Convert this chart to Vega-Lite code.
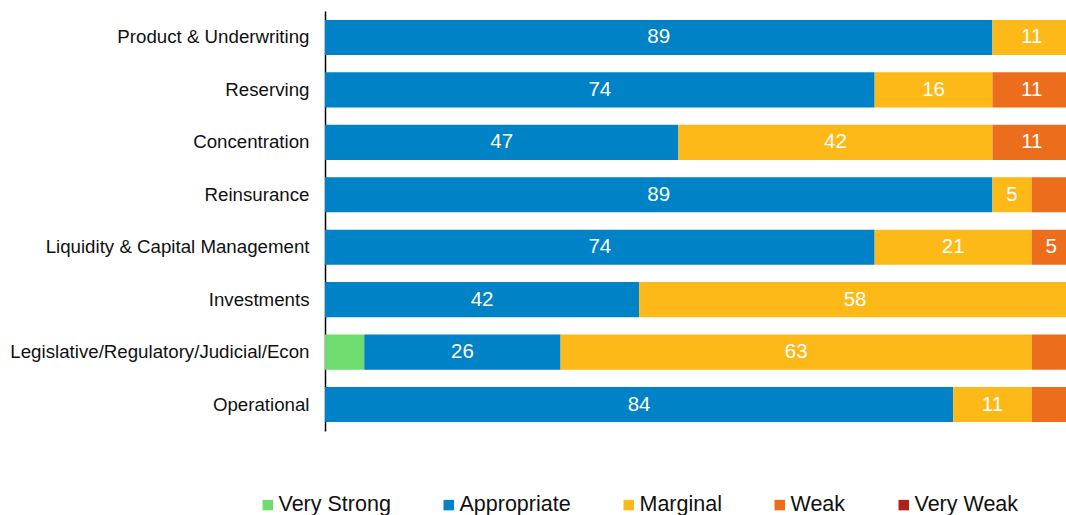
{
  "$schema": "https://vega.github.io/schema/vega-lite/v6.json",
  "width": 741,
  "height": 420,
  "autosize": "none",
  "padding": {"left": 325, "top": 11, "right": 0, "bottom": 84},
  "background": "white",
  "config": {"font": "Liberation Sans", "view": {"stroke": null}},
  "data": {"values": [
    {"cat": "Product & Underwriting", "rating": "Appropriate", "rank": 2, "pct": 89.47, "label": "89"},
    {"cat": "Product & Underwriting", "rating": "Marginal", "rank": 3, "pct": 10.53, "label": "11"},
    {"cat": "Reserving", "rating": "Appropriate", "rank": 2, "pct": 73.68, "label": "74"},
    {"cat": "Reserving", "rating": "Marginal", "rank": 3, "pct": 15.79, "label": "16"},
    {"cat": "Reserving", "rating": "Weak", "rank": 4, "pct": 10.53, "label": "11"},
    {"cat": "Concentration", "rating": "Appropriate", "rank": 2, "pct": 47.37, "label": "47"},
    {"cat": "Concentration", "rating": "Marginal", "rank": 3, "pct": 42.11, "label": "42"},
    {"cat": "Concentration", "rating": "Weak", "rank": 4, "pct": 10.53, "label": "11"},
    {"cat": "Reinsurance", "rating": "Appropriate", "rank": 2, "pct": 89.47, "label": "89"},
    {"cat": "Reinsurance", "rating": "Marginal", "rank": 3, "pct": 5.26, "label": "5"},
    {"cat": "Reinsurance", "rating": "Weak", "rank": 4, "pct": 5.26, "label": ""},
    {"cat": "Liquidity & Capital Management", "rating": "Appropriate", "rank": 2, "pct": 73.68, "label": "74"},
    {"cat": "Liquidity & Capital Management", "rating": "Marginal", "rank": 3, "pct": 21.05, "label": "21"},
    {"cat": "Liquidity & Capital Management", "rating": "Weak", "rank": 4, "pct": 5.26, "label": "5"},
    {"cat": "Investments", "rating": "Appropriate", "rank": 2, "pct": 42.11, "label": "42"},
    {"cat": "Investments", "rating": "Marginal", "rank": 3, "pct": 57.89, "label": "58"},
    {"cat": "Legislative/Regulatory/Judicial/Econ", "rating": "Very Strong", "rank": 1, "pct": 5.26, "label": ""},
    {"cat": "Legislative/Regulatory/Judicial/Econ", "rating": "Appropriate", "rank": 2, "pct": 26.32, "label": "26"},
    {"cat": "Legislative/Regulatory/Judicial/Econ", "rating": "Marginal", "rank": 3, "pct": 63.16, "label": "63"},
    {"cat": "Legislative/Regulatory/Judicial/Econ", "rating": "Weak", "rank": 4, "pct": 5.26, "label": ""},
    {"cat": "Operational", "rating": "Appropriate", "rank": 2, "pct": 84.21, "label": "84"},
    {"cat": "Operational", "rating": "Marginal", "rank": 3, "pct": 10.53, "label": "11"},
    {"cat": "Operational", "rating": "Weak", "rank": 4, "pct": 5.26, "label": ""}
  ]},
  "transform": [
    {"stack": "pct", "groupby": ["cat"], "sort": [{"field": "rank", "order": "ascending"}], "as": ["x0", "x1"]},
    {"calculate": "(datum.x0 + datum.x1) / 2", "as": "mid"}
  ],
  "encoding": {
    "y": {
      "field": "cat", "type": "nominal",
      "sort": ["Product & Underwriting", "Reserving", "Concentration", "Reinsurance", "Liquidity & Capital Management", "Investments", "Legislative/Regulatory/Judicial/Econ", "Operational"],
      "scale": {"paddingInner": 0.33, "paddingOuter": 0.17},
      "axis": {"title": null, "ticks": false, "labelFontSize": 18.7, "labelColor": "#111111", "labelPadding": 16, "domainColor": "#000000", "domainWidth": 1.5, "labelLimit": 400}
    }
  },
  "layer": [
    {
      "mark": {"type": "bar", "clip": true},
      "encoding": {
        "x": {"field": "x0", "type": "quantitative", "scale": {"domain": [0, 99.33], "nice": false, "zero": true}, "axis": null},
        "x2": {"field": "x1"},
        "color": {
          "field": "rating", "type": "nominal",
          "scale": {
            "domain": ["Very Strong", "Appropriate", "Marginal", "Weak", "Very Weak"],
            "range": ["#6FDC6F", "#0082C6", "#FCB917", "#EC6D1B", "#B0211A"]
          },
          "legend": {
            "title": null, "orient": "none", "direction": "horizontal",
            "legendX": -68, "legendY": 483,
            "symbolType": "square", "symbolSize": 110, "symbolStrokeWidth": 0,
            "labelFontSize": 21.5, "labelColor": "#111111", "labelOffset": 0,
            "columnPadding": 47
          }
        }
      }
    },
    {
      "mark": {"type": "text", "color": "white", "fontSize": 20.5, "baseline": "middle", "align": "center"},
      "encoding": {
        "x": {"field": "mid", "type": "quantitative"},
        "text": {"field": "label"}
      }
    }
  ]
}
